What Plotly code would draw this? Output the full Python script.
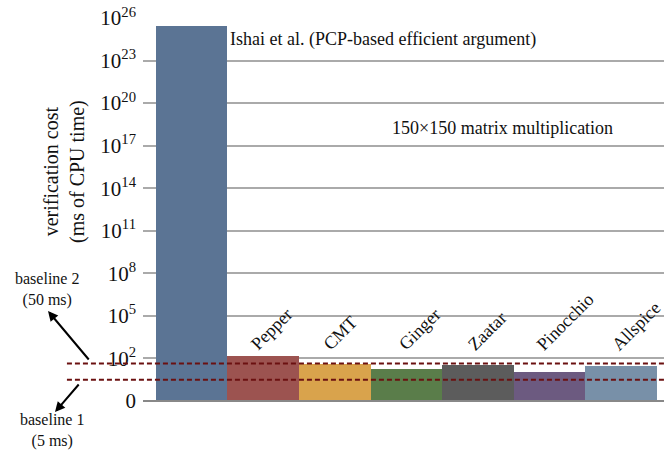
import plotly.graph_objects as go
import math

categories = ["Ishai et al.", "Pepper", "CMT", "Ginger", "Zaatar", "Pinocchio", "Allspice"]
costs_ms = [2.7e25, 150, 41, 19, 35, 11, 30]
bar_colors = ["#5b7494", "#9c5350", "#d9a34c", "#5a7d4a", "#5c5c5c", "#6c5a80", "#7890a8"]
tick_exps = [-1, 2, 5, 8, 11, 14, 17, 20, 23, 26]
tick_text = ["0"] + ["10<sup>%d</sup>" % e for e in tick_exps[1:]]
baseline_values = [44, 3.1]  # drawn positions of baseline 2 (50 ms) and baseline 1 (5 ms)
label_xshift = [0, -19, -18, -14, -17, -20, -16]

FONT = "Liberation Serif"
LOG_MIN, LOG_MAX = -1, 26

fig = go.Figure()
fig.add_trace(go.Bar(
    x=categories, y=costs_ms, marker=dict(color=bar_colors, line=dict(width=0)),
    width=1.0, showlegend=False,
))

def paper_y(v):
    return (math.log10(v) - LOG_MIN) / (LOG_MAX - LOG_MIN)

for v in baseline_values:
    yy = paper_y(v)
    fig.add_shape(type="line", xref="paper", yref="paper", x0=-0.146, x1=1.0,
                  y0=yy, y1=yy, line=dict(color="#6b1010", width=2, dash="5px,3px"), layer="above")

def py(pix):
    return (401 - pix) / 383

def px(pix):
    return (pix - 143) / 521

ann = []
# bar labels
for i, c in enumerate(categories[1:], start=1):
    ann.append(dict(x=c, y=0.115, xref="x", yref="paper", text=c, textangle=-45,
                    xanchor="left", yanchor="bottom", xshift=label_xshift[i], showarrow=False,
                    font=dict(family=FONT, size=18, color="#111")))
ann.append(dict(x=px(228), y=py(40), xref="paper", yref="paper",
                text="Ishai et al. (PCP-based efficient argument)", xanchor="left", yanchor="middle",
                showarrow=False, font=dict(family=FONT, size=18, color="#111")))
ann.append(dict(x=px(502), y=py(128), xref="paper", yref="paper",
                text="150×150 matrix multiplication", xanchor="center", yanchor="middle",
                showarrow=False, font=dict(family=FONT, size=18, color="#111")))
# axis title
ann.append(dict(x=px(64), y=py(172), xref="paper", yref="paper",
                text="verification cost<br>(ms of CPU time)", textangle=-90,
                xanchor="center", yanchor="middle", showarrow=False,
                font=dict(family=FONT, size=20, color="#111")))
# baseline labels
for txt, xc, yc in [("baseline 2<br>(50 ms)", 47, 289), ("baseline 1<br>(5 ms)", 52, 430)]:
    ann.append(dict(x=px(xc), y=py(yc), xref="paper", yref="paper", text=txt,
                    xanchor="center", yanchor="middle", showarrow=False, borderpad=0,
                    font=dict(family=FONT, size=16, color="#111")))
# arrows
ann.append(dict(x=px(48), y=py(311), xref="paper", yref="paper", text="",
                showarrow=True, ax=42, ay=50, arrowhead=2, arrowsize=1, arrowwidth=2, arrowcolor="#000"))
ann.append(dict(x=px(55), y=py(412), xref="paper", yref="paper", text="",
                showarrow=True, ax=25, ay=-29, arrowhead=2, arrowsize=1, arrowwidth=2, arrowcolor="#000"))

fig.update_layout(
    width=664, height=451,
    margin=dict(l=143, r=0, t=18, b=50, pad=0),
    paper_bgcolor="white", plot_bgcolor="white",
    bargap=0,
    annotations=ann,
    xaxis=dict(type="category", range=[-0.68, 6.6], showticklabels=False, showgrid=False,
               showline=False, zeroline=False, ticks=""),
    yaxis=dict(type="log", range=[LOG_MIN, LOG_MAX], tickvals=[10.0 ** e for e in tick_exps],
               ticktext=tick_text, showgrid=True, gridcolor="#aaaaaa", gridwidth=1.5,
               zeroline=False, showline=False, ticks="", ticklabelstandoff=6,
               tickfont=dict(family=FONT, size=21, color="#111")),
)
fig.add_shape(type="line", xref="paper", yref="paper", x0=0, x1=1, y0=0, y1=0,
              line=dict(color="#888888", width=2), layer="above")

fig.write_html("out.html")
